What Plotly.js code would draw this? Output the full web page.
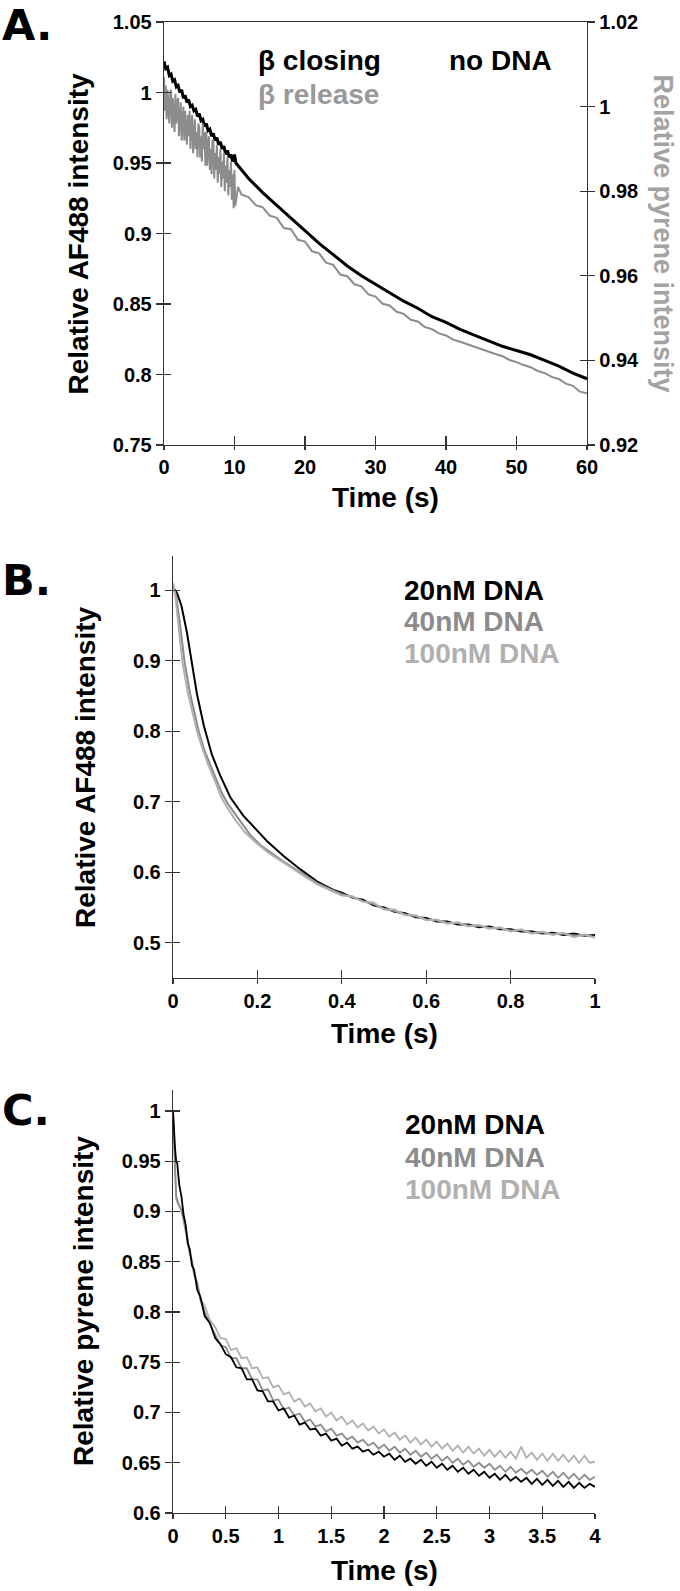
<!DOCTYPE html>
<html>
<head>
<meta charset="utf-8">
<script src="https://cdn.plot.ly/plotly-3.0.1.min.js"></script>
<style>
  body { margin: 0; background: #fff; }
  #myDiv { width: 680px; height: 1591px; }
</style>
</head>
<body>
<div id="myDiv"></div>
<script>
// ---- panel A: no DNA, 0-60 s ----
var aTimeFast = [0, 0.25, 0.5, 0.75, 1, 1.25, 1.5, 1.75, 2, 2.25, 2.5, 2.75, 3, 3.25, 3.5, 3.75, 4, 4.25, 4.5, 4.75,
  5, 5.25, 5.5, 5.75, 6, 6.25, 6.5, 6.75, 7, 7.25, 7.5, 7.75, 8, 8.25, 8.5, 8.75, 9, 9.25, 9.5, 9.75, 10];

var aClosingTime = aTimeFast.concat([10.2, 12, 14, 16, 18, 20, 22, 24, 26, 28, 30, 32, 34, 36, 38, 40,
  42, 44, 46, 48, 50, 52, 54, 56, 58, 60]);
var aClosing = [1.022, 1.017, 1.018, 1.012, 1.013, 1.008, 1.009, 1.004, 1.005, 1.000, 1.002, 0.996, 0.998, 0.993,
  0.995, 0.990, 0.991, 0.987, 0.988, 0.983, 0.985, 0.980, 0.981, 0.976, 0.978, 0.973, 0.974, 0.969, 0.971, 0.966,
  0.968, 0.963, 0.965, 0.960, 0.962, 0.956, 0.959, 0.954, 0.956, 0.951, 0.956,
  0.950, 0.939, 0.929, 0.920, 0.911, 0.902, 0.893, 0.885, 0.877, 0.870, 0.864, 0.858, 0.852, 0.847, 0.841, 0.837,
  0.832, 0.828, 0.824, 0.820, 0.817, 0.814, 0.810, 0.806, 0.801, 0.797];

var aReleaseTime = [0, 0.125, 0.25, 0.375, 0.5, 0.625, 0.75, 0.875, 1, 1.125, 1.25, 1.375, 1.5, 1.625, 1.75, 1.875,
  2, 2.125, 2.25, 2.375, 2.5, 2.625, 2.75, 2.875, 3, 3.125, 3.25, 3.375, 3.5, 3.625, 3.75, 3.875,
  4, 4.125, 4.25, 4.375, 4.5, 4.625, 4.75, 4.875, 5, 5.125, 5.25, 5.375, 5.5, 5.625, 5.75, 5.875,
  6, 6.125, 6.25, 6.375, 6.5, 6.625, 6.75, 6.875, 7, 7.125, 7.25, 7.375, 7.5, 7.625, 7.75, 7.875,
  8, 8.125, 8.25, 8.375, 8.5, 8.625, 8.75, 8.875, 9, 9.125, 9.25, 9.375, 9.5, 9.625, 9.75, 9.875, 10,
  10.1, 10.5, 11, 12, 13, 14, 15, 16, 17, 18, 19, 20, 21, 22, 23, 24, 25,
  26, 27, 28, 29, 30, 31, 32, 33, 34, 35, 36, 37, 38, 39, 40, 41, 42, 43, 44, 45, 46, 47, 48, 49, 50, 51, 52,
  53, 54, 55, 56, 57, 58, 59, 60];
var aRelease = [1.007, 0.999, 1.005, 0.997, 1.004, 1.001, 0.996, 1.003,
  1.004, 0.995, 1.002, 0.998, 0.994, 1.003, 0.996, 1.001,
  1.002, 0.993, 0.999, 1.001, 0.992, 0.998, 1.000, 0.992,
  0.999, 0.994, 0.991, 0.998, 0.993, 0.999, 0.990, 0.996,
  0.998, 0.989, 0.995, 0.997, 0.990, 0.994, 0.988, 0.996,
  0.995, 0.988, 0.993, 0.987, 0.996, 0.990, 0.994, 0.986,
  0.994, 0.986, 0.991, 0.993, 0.985, 0.990, 0.984, 0.992,
  0.992, 0.983, 0.989, 0.985, 0.991, 0.982, 0.988, 0.984,
  0.990, 0.981, 0.987, 0.983, 0.989, 0.980, 0.986, 0.982,
  0.988, 0.979, 0.985, 0.981, 0.987, 0.978, 0.984, 0.976, 0.985,
  0.9765, 0.9810, 0.9792, 0.9786, 0.9767, 0.9762, 0.9742, 0.9737, 0.9713, 0.9710, 0.9685, 0.9681, 0.9658, 0.9653,
  0.9631, 0.9626, 0.9603, 0.9599, 0.9580, 0.9575, 0.9556, 0.9551, 0.9534, 0.9530, 0.9515, 0.9510, 0.9496, 0.9492,
  0.9479, 0.9474, 0.9464, 0.9459, 0.9449, 0.9444, 0.9438, 0.9433, 0.9426, 0.9421, 0.9415, 0.9410, 0.9401, 0.9396,
  0.9389, 0.9384, 0.9375, 0.9370, 0.9361, 0.9356, 0.9345, 0.9340, 0.9326, 0.9322];

// ---- panel B: AF488, 0-1 s ----
var bTail = [0.4, 0.425, 0.45, 0.475, 0.5, 0.525, 0.55, 0.575, 0.6, 0.625, 0.65, 0.675, 0.7, 0.725, 0.75, 0.775,
  0.8, 0.825, 0.85, 0.875, 0.9, 0.925, 0.95, 0.975, 1.0];
var b20Time = [0, 0.005, 0.01, 0.02, 0.033, 0.045, 0.057, 0.073, 0.092, 0.112, 0.136, 0.167, 0.195, 0.223, 0.262,
  0.302, 0.341, 0.38].concat(bTail);
var b20 = [1.003, 1.0, 0.995, 0.978, 0.94, 0.893, 0.852, 0.808, 0.767, 0.737, 0.706, 0.68, 0.662, 0.644, 0.623,
  0.604, 0.587, 0.575,
  0.571, 0.564, 0.561, 0.553, 0.550, 0.544, 0.542, 0.536, 0.535, 0.530, 0.530, 0.526, 0.526, 0.522, 0.523, 0.519,
  0.519, 0.516, 0.516, 0.513, 0.514, 0.511, 0.513, 0.510, 0.511];
var b40Time = [0, 0.008, 0.016, 0.027, 0.04, 0.05, 0.061, 0.075, 0.09, 0.1, 0.116, 0.13, 0.15, 0.183, 0.21, 0.24,
  0.262, 0.302, 0.341, 0.38].concat(bTail);
var b40 = [1.008, 0.99, 0.955, 0.9, 0.855, 0.83, 0.8, 0.772, 0.75, 0.733, 0.712, 0.697, 0.68, 0.653, 0.637, 0.624,
  0.615, 0.6, 0.585, 0.574,
  0.569, 0.565, 0.559, 0.555, 0.548, 0.545, 0.540, 0.538, 0.533, 0.532, 0.528, 0.528, 0.524, 0.524, 0.521, 0.521,
  0.517, 0.518, 0.514, 0.515, 0.512, 0.513, 0.510, 0.511, 0.508];
var b100Time = [0, 0.006, 0.013, 0.022, 0.035, 0.045, 0.057, 0.07, 0.085, 0.1, 0.113, 0.128, 0.148, 0.17, 0.195,
  0.225, 0.262, 0.302, 0.341, 0.38].concat(bTail);
var b100 = [1.01, 0.99, 0.95, 0.9, 0.855, 0.83, 0.8, 0.775, 0.75, 0.729, 0.708, 0.692, 0.674, 0.657, 0.643, 0.628,
  0.613, 0.598, 0.583, 0.573,
  0.567, 0.566, 0.558, 0.557, 0.547, 0.547, 0.539, 0.539, 0.532, 0.533, 0.527, 0.529, 0.523, 0.525, 0.520, 0.522,
  0.516, 0.519, 0.513, 0.516, 0.511, 0.514, 0.508, 0.512, 0.507];

// ---- panel C: pyrene, 0-4 s ----
var cTime = [0, 0.01, 0.02, 0.03, 0.04, 0.06, 0.08, 0.1, 0.12, 0.14, 0.16, 0.18, 0.2, 0.23, 0.26, 0.3, 0.35,
  0.4, 0.45, 0.5, 0.55, 0.6, 0.65, 0.7, 0.75, 0.8, 0.85, 0.9, 0.95, 1.0, 1.05, 1.1, 1.15, 1.2, 1.25, 1.3, 1.35,
  1.4, 1.45, 1.5, 1.55, 1.6, 1.65, 1.7, 1.75, 1.8, 1.85, 1.9, 1.95, 2.0, 2.05, 2.1, 2.15, 2.2, 2.25, 2.3, 2.35,
  2.4, 2.45, 2.5, 2.55, 2.6, 2.65, 2.7, 2.75, 2.8, 2.85, 2.9, 2.95, 3.0, 3.05, 3.1, 3.15, 3.2, 3.25, 3.3, 3.35,
  3.4, 3.45, 3.5, 3.55, 3.6, 3.65, 3.7, 3.75, 3.8, 3.85, 3.9, 3.95, 4.0];
var c20 = [1.000, 0.972, 0.962, 0.950, 0.948, 0.926, 0.915, 0.897, 0.887, 0.868, 0.862, 0.846, 0.842, 0.822, 0.815,
  0.796, 0.789, 0.774, 0.768, 0.758, 0.755, 0.745, 0.744, 0.733, 0.733, 0.722, 0.721, 0.711, 0.711, 0.702, 0.704,
  0.695, 0.697, 0.688, 0.690, 0.683, 0.684, 0.677, 0.679, 0.672, 0.674, 0.667, 0.670, 0.664, 0.666, 0.661, 0.663,
  0.658, 0.661, 0.656, 0.659, 0.653, 0.657, 0.651, 0.654, 0.649, 0.653, 0.647, 0.651, 0.645, 0.649, 0.643, 0.647,
  0.641, 0.645, 0.639, 0.643, 0.637, 0.641, 0.635, 0.639, 0.633, 0.638, 0.632, 0.636, 0.631, 0.635, 0.629, 0.634,
  0.628, 0.633, 0.627, 0.632, 0.626, 0.631, 0.625, 0.630, 0.625, 0.629, 0.626];
var c40 = [1.000, 0.968, 0.935, 0.915, 0.912, 0.905, 0.902, 0.893, 0.884, 0.872, 0.858, 0.850, 0.838, 0.828, 0.812,
  0.800, 0.788, 0.778, 0.767, 0.765, 0.754, 0.754, 0.744, 0.744, 0.733, 0.733, 0.722, 0.723, 0.712, 0.713, 0.703,
  0.705, 0.697, 0.699, 0.691, 0.693, 0.686, 0.688, 0.681, 0.684, 0.677, 0.679, 0.673, 0.676, 0.670, 0.673, 0.667,
  0.670, 0.664, 0.668, 0.662, 0.666, 0.660, 0.664, 0.658, 0.662, 0.656, 0.660, 0.654, 0.658, 0.652, 0.656, 0.650,
  0.654, 0.648, 0.652, 0.646, 0.650, 0.645, 0.649, 0.643, 0.647, 0.641, 0.646, 0.640, 0.644, 0.639, 0.643, 0.638,
  0.642, 0.636, 0.641, 0.635, 0.640, 0.634, 0.639, 0.633, 0.638, 0.633, 0.636];
var c100 = [1.000, 0.965, 0.932, 0.912, 0.909, 0.906, 0.900, 0.892, 0.880, 0.870, 0.857, 0.852, 0.837, 0.830, 0.813,
  0.806, 0.792, 0.785, 0.774, 0.773, 0.762, 0.764, 0.754, 0.755, 0.744, 0.745, 0.734, 0.735, 0.725, 0.727, 0.718,
  0.720, 0.711, 0.714, 0.706, 0.709, 0.701, 0.704, 0.696, 0.700, 0.692, 0.696, 0.688, 0.692, 0.685, 0.689, 0.682,
  0.686, 0.679, 0.683, 0.676, 0.680, 0.673, 0.677, 0.670, 0.675, 0.668, 0.673, 0.666, 0.671, 0.664, 0.669, 0.662,
  0.667, 0.660, 0.666, 0.659, 0.664, 0.657, 0.663, 0.656, 0.662, 0.655, 0.661, 0.654, 0.666, 0.655, 0.660, 0.653,
  0.659, 0.652, 0.659, 0.652, 0.658, 0.651, 0.657, 0.650, 0.657, 0.650, 0.651];

var BLACK = '#000000', MID = '#8c8c8c', LIGHT = '#b0b0b0';
var FONT = 'Liberation Sans, Arial, sans-serif';

var data = [
  {x: aReleaseTime, y: aRelease, xaxis: 'x', yaxis: 'y2', type: 'scatter', mode: 'lines', line: {color: MID, width: 2}},
  {x: aClosingTime, y: aClosing, xaxis: 'x', yaxis: 'y', type: 'scatter', mode: 'lines', line: {color: BLACK, width: 3}},
  {x: b20Time, y: b20, xaxis: 'x2', yaxis: 'y3', type: 'scatter', mode: 'lines', line: {color: BLACK, width: 2}},
  {x: b40Time, y: b40, xaxis: 'x2', yaxis: 'y3', type: 'scatter', mode: 'lines', line: {color: MID, width: 2}},
  {x: b100Time, y: b100, xaxis: 'x2', yaxis: 'y3', type: 'scatter', mode: 'lines', line: {color: LIGHT, width: 2}},
  {x: cTime, y: c100, xaxis: 'x3', yaxis: 'y4', type: 'scatter', mode: 'lines', line: {color: LIGHT, width: 1.8}},
  {x: cTime, y: c40, xaxis: 'x3', yaxis: 'y4', type: 'scatter', mode: 'lines', line: {color: MID, width: 1.8}},
  {x: cTime, y: c20, xaxis: 'x3', yaxis: 'y4', type: 'scatter', mode: 'lines', line: {color: BLACK, width: 1.8}}
];

// empty traces so the tick-only overlay axes get their own subplots
var overlayPairs = [['x4', 'y'], ['x', 'y5'], ['x', 'y6'], ['x5', 'y3'], ['x2', 'y7'], ['x6', 'y4'], ['x3', 'y8']];
overlayPairs.forEach(function (p) {
  data.push({x: [], y: [], xaxis: p[0], yaxis: p[1], type: 'scatter', mode: 'lines', hoverinfo: 'skip'});
});

var tickFont = {family: FONT, size: 20, color: '#000', weight: 'bold'};
function axis(extra) {
  var base = {showgrid: false, zeroline: false, showline: true, linecolor: '#333', linewidth: 1.3,
    ticks: 'outside', ticklen: 7, tickwidth: 1.3, tickcolor: '#333', tickfont: tickFont, fixedrange: true};
  return Object.assign(base, extra);
}
// second copy of an axis that only draws the inner half of each tick, so ticks cross the line
function inner(extra) {
  var base = {showgrid: false, zeroline: false, showline: false, showticklabels: false,
    ticks: 'inside', ticklen: 7, tickwidth: 1.3, tickcolor: '#333', fixedrange: true};
  return Object.assign(base, extra);
}

var dA = [0.24118, 0.86324], dBC = [0.25441, 0.875];
var yA = [0.72030, 0.98617], yB = [0.38529, 0.65053], yC = [0.04903, 0.31490];

function px(x) { return x / 680; }
function py(y) { return 1 - y / 1591; }
function note(text, x, y, opts) {
  var a = {text: text, xref: 'paper', yref: 'paper', x: px(x), y: py(y), showarrow: false,
    xanchor: 'left', yanchor: 'middle',
    font: {family: FONT, size: 28, color: '#000', weight: 'bold'}};
  return Object.assign(a, opts || {});
}
var letterFont = {family: 'DejaVu Sans, sans-serif', size: 43, color: '#000', weight: 'bold'};
var titleFont = {family: FONT, size: 28, color: '#000', weight: 'bold'};

var layout = {
  width: 680, height: 1591,
  margin: {l: 0, r: 0, t: 0, b: 0},
  paper_bgcolor: '#fff', plot_bgcolor: 'rgba(0,0,0,0)',
  showlegend: false,
  xaxis: axis({domain: dA, anchor: 'y', range: [0, 60], dtick: 10, mirror: true, ticklen: 4}),
  yaxis: axis({domain: yA, anchor: 'x', range: [0.75, 1.05], dtick: 0.05, tick0: 0.75}),
  yaxis2: axis({overlaying: 'y', side: 'right', anchor: 'x', range: [0.92, 1.02], dtick: 0.02, tick0: 0.92}),
  xaxis2: axis({domain: dBC, anchor: 'y3', range: [0, 1], dtick: 0.2, ticklen: 5}),
  yaxis3: axis({domain: yB, anchor: 'x2', range: [0.45, 1.0485], dtick: 0.1, tick0: 0.5}),
  xaxis3: axis({domain: dBC, anchor: 'y4', range: [0, 4], dtick: 0.5, ticklen: 5}),
  yaxis4: axis({domain: yC, anchor: 'x3', range: [0.6, 1.0209], dtick: 0.05, tick0: 0.6}),
  xaxis4: inner({overlaying: 'x', anchor: 'y', range: [0, 60], dtick: 10, ticklen: 9}),
  yaxis5: inner({overlaying: 'y', anchor: 'x', range: [0.75, 1.05], dtick: 0.05, tick0: 0.75}),
  yaxis6: inner({overlaying: 'y', anchor: 'x', side: 'right', range: [0.92, 1.02], dtick: 0.02, tick0: 0.92}),
  xaxis5: inner({overlaying: 'x2', anchor: 'y3', range: [0, 1], dtick: 0.2, ticklen: 8}),
  yaxis7: inner({overlaying: 'y3', anchor: 'x2', range: [0.45, 1.0485], dtick: 0.1, tick0: 0.5}),
  xaxis6: inner({overlaying: 'x3', anchor: 'y4', range: [0, 4], dtick: 0.5, ticklen: 7}),
  yaxis8: inner({overlaying: 'y4', anchor: 'x3', range: [0.6, 1.0209], dtick: 0.05, tick0: 0.6}),
  annotations: [
    note('A.', 0, 25, {font: letterFont}),
    note('B.', 0, 580, {font: letterFont}),
    note('C.', 0, 1110, {font: letterFont}),
    note('Time (s)', 385, 497, {xanchor: 'center', font: titleFont}),
    note('Time (s)', 384, 1033, {xanchor: 'center', font: titleFont}),
    note('Time (s)', 384, 1570, {xanchor: 'center', font: titleFont}),
    note('Relative AF488 intensity', 78, 233.5, {xanchor: 'center', textangle: -90, font: titleFont}),
    note('Relative pyrene intensity', 662, 233.5, {xanchor: 'center', textangle: 90,
      font: {family: FONT, size: 27, color: '#a3a3a3', weight: 'bold'}}),
    note('Relative AF488 intensity', 85, 767, {xanchor: 'center', textangle: -90, font: titleFont}),
    note('Relative pyrene intensity', 83, 1301, {xanchor: 'center', textangle: -90, font: titleFont}),
    note('β closing', 256, 60),
    note('no DNA', 447, 60),
    note('β release', 256, 95, {font: {family: FONT, size: 28, color: '#999999', weight: 'bold'}}),
    note('20nM DNA', 402, 590),
    note('40nM DNA', 402, 622, {font: {family: FONT, size: 28, color: MID, weight: 'bold'}}),
    note('100nM DNA', 402, 653, {font: {family: FONT, size: 28, color: LIGHT, weight: 'bold'}}),
    note('20nM DNA', 403, 1124),
    note('40nM DNA', 403, 1157, {font: {family: FONT, size: 28, color: MID, weight: 'bold'}}),
    note('100nM DNA', 403, 1189, {font: {family: FONT, size: 28, color: LIGHT, weight: 'bold'}})
  ]
};

Plotly.newPlot('myDiv', data, layout, {staticPlot: true, displayModeBar: false});
</script>
</body>
</html>
